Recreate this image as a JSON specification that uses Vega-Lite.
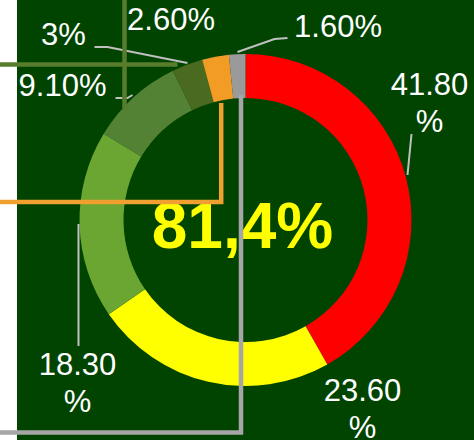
{
  "$schema": "https://vega.github.io/schema/vega-lite/v6.json",
  "width": 457,
  "height": 440,
  "autosize": {"type": "none"},
  "padding": {"left": 17, "top": 0, "right": 0, "bottom": 0},
  "background": "#ffffff",
  "config": {"view": {"fill": "#004400", "stroke": null}},
  "datasets": {
    "slices": [
      {"name": "41.80%", "rank": 1, "value": 41.8},
      {"name": "23.60%", "rank": 2, "value": 23.6},
      {"name": "18.30%", "rank": 3, "value": 18.3},
      {"name": "9.10%", "rank": 4, "value": 9.1},
      {"name": "3%", "rank": 5, "value": 3},
      {"name": "2.60%", "rank": 6, "value": 2.6},
      {"name": "1.60%", "rank": 7, "value": 1.6}
    ],
    "labels": [
      {"text": "41.80\n%", "x": 184, "y": -125},
      {"text": "23.60\n%", "x": 117, "y": 181},
      {"text": "18.30\n%", "x": -168, "y": 155},
      {"text": "9.10%", "x": -183, "y": -124},
      {"text": "3%", "x": -182, "y": -175},
      {"text": "2.60%", "x": -74.5, "y": -190},
      {"text": "1.60%", "x": 92.5, "y": -183}
    ],
    "leaders": [
      {"label": "41.80%", "pt": 1, "x": 162, "y": -45},
      {"label": "41.80%", "pt": 2, "x": 166, "y": -86},
      {"label": "18.30%", "pt": 1, "x": -167, "y": 4},
      {"label": "18.30%", "pt": 2, "x": -167, "y": 126},
      {"label": "9.10%", "pt": 1, "x": -130, "y": -122},
      {"label": "9.10%", "pt": 2, "x": -118, "y": -122},
      {"label": "9.10%", "pt": 3, "x": -113, "y": -125},
      {"label": "3%", "pt": 1, "x": -151, "y": -173},
      {"label": "3%", "pt": 2, "x": -138, "y": -173},
      {"label": "3%", "pt": 3, "x": -58, "y": -157},
      {"label": "1.60%", "pt": 1, "x": 42, "y": -182},
      {"label": "1.60%", "pt": 2, "x": 29, "y": -181},
      {"label": "1.60%", "pt": 3, "x": -8, "y": -168}
    ],
    "connectors": [
      {"link": "link 1", "part": "a", "pt": 1, "x": -121, "y": -224},
      {"link": "link 1", "part": "a", "pt": 2, "x": -121, "y": -112},
      {"link": "link 1", "part": "b", "pt": 1, "x": -250, "y": -155.5},
      {"link": "link 1", "part": "b", "pt": 2, "x": -68, "y": -155.5},
      {"link": "link 2", "part": "c", "pt": 1, "x": -250, "y": -18},
      {"link": "link 2", "part": "c", "pt": 2, "x": -24.3, "y": -18},
      {"link": "link 2", "part": "c", "pt": 3, "x": -24.3, "y": -117},
      {"link": "link 3", "part": "d", "pt": 1, "x": -250, "y": 212.5},
      {"link": "link 3", "part": "d", "pt": 2, "x": -4.5, "y": 212.5},
      {"link": "link 3", "part": "d", "pt": 3, "x": -4.5, "y": -125}
    ],
    "center": [
      {"text": "81,4%", "x": -3, "y": 28}
    ]
  },
  "layer": [
    {
      "data": {"name": "slices"},
      "mark": {"type": "arc", "radius": 166, "innerRadius": 122},
      "encoding": {
        "theta": {"field": "value", "type": "quantitative", "stack": true},
        "order": {"field": "rank", "type": "quantitative"},
        "color": {
          "field": "name",
          "type": "nominal",
          "legend": null,
          "scale": {
            "domain": ["41.80%", "23.60%", "18.30%", "9.10%", "3%", "2.60%", "1.60%", "link 1", "link 2", "link 3"],
            "range": ["#ff0000", "#ffff00", "#6aa631", "#548235", "#4a6b1f", "#f29c25", "#9a9a9a", "#577d2c", "#f0a030", "#a6a6a6"]
          }
        }
      }
    },
    {
      "data": {"name": "leaders"},
      "mark": {"type": "line", "color": "#c0c0c0", "strokeWidth": 2},
      "encoding": {
        "x": {"field": "x", "type": "quantitative", "axis": null, "scale": {"domain": [-228.5, 228.5], "nice": false, "zero": false}},
        "y": {"field": "y", "type": "quantitative", "axis": null, "scale": {"domain": [-220, 220], "nice": false, "zero": false, "reverse": true}},
        "detail": {"field": "label", "type": "nominal"},
        "order": {"field": "pt", "type": "quantitative"}
      }
    },
    {
      "data": {"name": "labels"},
      "mark": {"type": "text", "font": "Liberation Sans", "fontSize": 31, "color": "#ffffff", "align": "center", "baseline": "alphabetic", "lineBreak": "\n", "lineHeight": 37},
      "encoding": {
        "x": {"field": "x", "type": "quantitative"},
        "y": {"field": "y", "type": "quantitative"},
        "text": {"field": "text", "type": "nominal"}
      }
    },
    {
      "data": {"name": "center"},
      "mark": {"type": "text", "font": "Liberation Sans", "fontSize": 64, "fontWeight": "bold", "color": "#ffff00", "align": "center", "baseline": "alphabetic"},
      "encoding": {
        "x": {"field": "x", "type": "quantitative"},
        "y": {"field": "y", "type": "quantitative"},
        "text": {"field": "text", "type": "nominal"}
      }
    },
    {
      "data": {"name": "connectors"},
      "mark": {"type": "line", "strokeWidth": 4.5, "clip": false},
      "encoding": {
        "x": {"field": "x", "type": "quantitative"},
        "y": {"field": "y", "type": "quantitative"},
        "color": {"field": "link", "type": "nominal", "legend": null},
        "detail": {"field": "part", "type": "nominal"},
        "order": {"field": "pt", "type": "quantitative"}
      }
    }
  ]
}
